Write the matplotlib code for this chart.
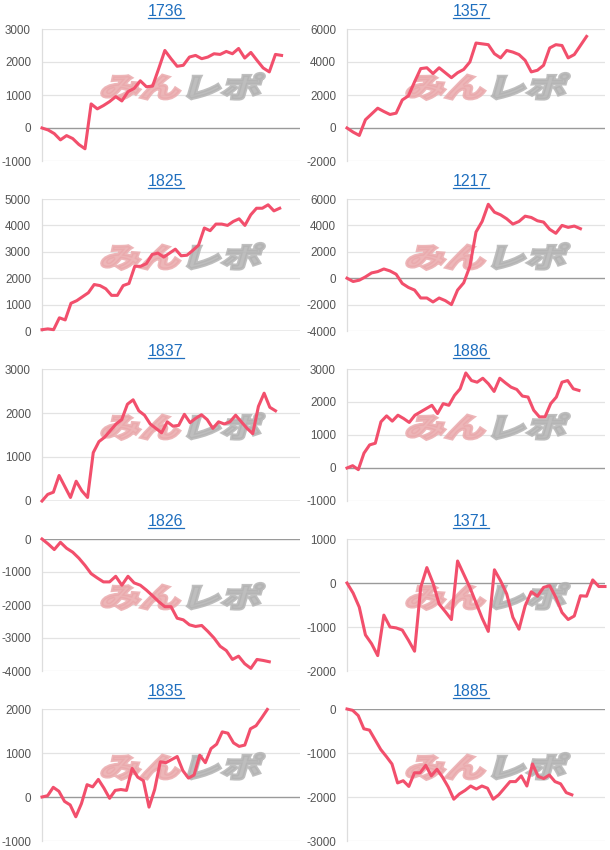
import matplotlib
matplotlib.use("Agg")
import matplotlib.pyplot as plt
from matplotlib.font_manager import FontProperties
from matplotlib.lines import Line2D
from matplotlib.patches import PathPatch
from matplotlib.textpath import TextPath
from matplotlib.transforms import Affine2D, ScaledTranslation

titles = ["1736", "1357", "1825", "1217", "1837", "1886", "1826", "1371", "1835", "1885"]

s1736 = [0, -60, -170, -360, -230, -320, -500, -630, 730, 580, 680, 800, 950, 820,
         1100, 1200, 1430, 1250, 1270, 1800, 2350, 2100, 1870, 1900, 2150, 2200, 2100,
         2150, 2250, 2230, 2320, 2250, 2410, 2120, 2290, 2050, 1820, 1700, 2230, 2200]
s1357 = [0, -250, -450, 500, 850, 1200, 1000, 820, 900, 1700, 1950, 2800, 3600, 3650,
         3300, 3650, 3350, 3050, 3350, 3550, 4000, 5150, 5100, 5050, 4500, 4250, 4700,
         4600, 4450, 4100, 3400, 3500, 3800, 4850, 5050, 5000, 4250, 4450, 5000, 5550]
s1825 = [50, 80, 50, 500, 420, 1050, 1150, 1300, 1450, 1760, 1720, 1600, 1350, 1350,
         1720, 1800, 2450, 2450, 2550, 2900, 2950, 2800, 2950, 3100, 2850, 2870, 3050,
         3250, 3900, 3800, 4050, 4050, 4000, 4150, 4250, 4000, 4400, 4650, 4650, 4780,
         4550, 4650]
s1217 = [0, -250, -150, 100, 400, 500, 700, 550, 300, -400, -700, -900, -1500, -1500,
         -1800, -1500, -1700, -2000, -900, -350, 900, 3500, 4300, 5600, 5000, 4800, 4500,
         4100, 4300, 4700, 4600, 4350, 4250, 3700, 3400, 4000, 3850, 3950, 3750]
s1837 = [0, 150, 200, 580, 330, 80, 450, 230, 80, 1100, 1350, 1450, 1600, 1750, 1850,
         2200, 2300, 2050, 1950, 1750, 1650, 1550, 1800, 1700, 1720, 1970, 1780, 1880,
         1960, 1850, 1650, 1800, 1750, 1800, 1950, 1800, 1650, 1530, 2150, 2450, 2130,
         2050]
s1886 = [0, 70, -50, 450, 700, 750, 1400, 1580, 1420, 1600, 1500, 1380, 1600, 1700,
         1800, 1900, 1650, 1950, 1900, 2200, 2400, 2880, 2650, 2600, 2720, 2550, 2320,
         2720, 2580, 2450, 2380, 2180, 2150, 1750, 1550, 1550, 1950, 2150, 2600, 2650,
         2400, 2350]
s1826 = [0, -150, -320, -100, -280, -400, -580, -800, -1050, -1180, -1300, -1300, -1130,
         -1400, -1130, -1330, -1400, -1550, -1720, -1900, -2050, -2050, -2400, -2450,
         -2600, -2650, -2620, -2800, -3000, -3250, -3380, -3650, -3550, -3780, -3920,
         -3650, -3680, -3720]
s1371 = [0, -230, -550, -1180, -1380, -1650, -730, -1000, -1020, -1070, -1300, -1550,
         -100, 350, 0, -480, -650, -830, 500, 200, -100, -450, -800, -1100, 300, 50, -250,
         -780, -1050, -520, -200, -300, -100, -60, -330, -670, -830, -750, -290, -300, 70,
         -80, -80]
s1835 = [0, 30, 220, 130, -100, -180, -450, -150, 280, 230, 400, 200, -30, 150, 170, 150,
         650, 450, 370, -230, 170, 800, 780, 850, 920, 600, 430, 500, 950, 780, 1100, 1200,
         1480, 1450, 1230, 1150, 1180, 1550, 1620, 1800, 1990]
s1885 = [0, -30, -150, -450, -480, -700, -920, -1080, -1250, -1680, -1630, -1760, -1450,
         -1450, -1280, -1520, -1370, -1550, -1770, -2050, -1930, -1850, -1750, -1820, -1750,
         -1800, -2050, -1950, -1800, -1650, -1650, -1520, -1750, -1250, -1530, -1580, -1500,
         -1650, -1700, -1900, -1950]

series = [s1736, s1357, s1825, s1217, s1837, s1886, s1826, s1371, s1835, s1885]
x_spans = [42, 42, 44.5, 42, 45.3, 45.6, 42, 42, 45.8, 45.9]
# (min, max, step) of the y ticks
y_ranges = [(-1000, 3000, 1000), (-2000, 6000, 2000), (0, 5000, 1000),
            (-4000, 6000, 2000), (0, 3000, 1000), (-1000, 3000, 1000),
            (-4000, 0, 1000), (-2000, 1000, 1000), (-1000, 2000, 1000),
            (-3000, 0, 1000)]

LINE = "#f24f6c"
W, H = 610, 850

fig = plt.figure(figsize=(W / 100, H / 100), dpi=100)
fig.patch.set_facecolor("white")

font = FontProperties(family="Noto Sans CJK JP", weight="heavy")
p_min = TextPath((0, 0), "みん", size=40, prop=font)
off = p_min.get_extents().x1 + 2
p_rep = TextPath((off, 0), "レポ", size=40, prop=font)
ext_a, ext_b = p_min.get_extents(), p_rep.get_extents()
x0, x1 = min(ext_a.x0, ext_b.x0), max(ext_a.x1, ext_b.x1)
y0, y1 = min(ext_a.y0, ext_b.y0), max(ext_a.y1, ext_b.y1)

axes = []
for i, (title, vals) in enumerate(zip(titles, series)):
    row, col = divmod(i, 2)
    left = 42 if col == 0 else 347
    top = 29 + 170 * row
    ax = fig.add_axes([left / W, 1 - (top + 132) / H, 258 / W, 132 / H])
    axes.append(ax)

    lo, hi, step = y_ranges[i]
    ticks = list(range(lo, hi + 1, step))
    ax.set_ylim(lo, hi)
    ax.set_xlim(0, x_spans[i])
    ax.set_yticks(ticks)
    ax.set_yticklabels([str(t) for t in ticks], family="Liberation Sans",
                       fontsize=8.4, color="#555555")
    ax.tick_params(axis="y", length=0, pad=8)
    ax.set_xticks([])
    for t in ticks:
        if t == 0:
            ax.axhline(t, color="#9a9a9a", lw=1.0, zorder=1)
        else:
            ax.axhline(t, color="#e3e3e3", lw=0.9, zorder=0)
    for side in ["top", "right", "bottom"]:
        ax.spines[side].set_visible(False)
    ax.spines["left"].set_color("#dddddd")
    ax.spines["left"].set_linewidth(0.9)

    # watermark logo
    sx = 158 / (x1 - x0)
    sy = 26 / (y1 - y0)
    tr = (Affine2D().translate(-(x0 + x1) / 2, -(y0 + y1) / 2).scale(sx, sy)
          .skew_deg(16, 0) + ScaledTranslation(0.545, 0.565, ax.transAxes))
    ax.add_patch(PathPatch(p_min, transform=tr, facecolor="#eaa9ac", edgecolor="#eaa9ac",
                           lw=2.2, alpha=0.85, zorder=2, clip_on=False))
    ax.add_patch(PathPatch(p_rep, transform=tr, facecolor="#b3b3b3", edgecolor="#b3b3b3",
                           lw=2.2, alpha=0.85, zorder=2, clip_on=False))

    ax.plot(range(len(vals)), vals, color=LINE, lw=2.2, zorder=3,
            solid_joinstyle="round", clip_on=False)

    ax.text(0.48, 1.129, title, transform=ax.transAxes, ha="center", va="center",
            family="Liberation Sans", fontsize=11.5, color="#1f6fbf")

# underline the titles like links
fig.canvas.draw()
renderer = fig.canvas.get_renderer()
for ax in axes:
    txt = ax.texts[-1]
    bb = txt.get_window_extent(renderer)
    y = bb.y0 + 1
    fig.add_artist(Line2D([bb.x0 / W, bb.x1 / W], [y / H, y / H],
                          color="#1f6fbf", lw=0.9, transform=fig.transFigure))

fig.savefig("out.png", dpi=100, facecolor="white")
